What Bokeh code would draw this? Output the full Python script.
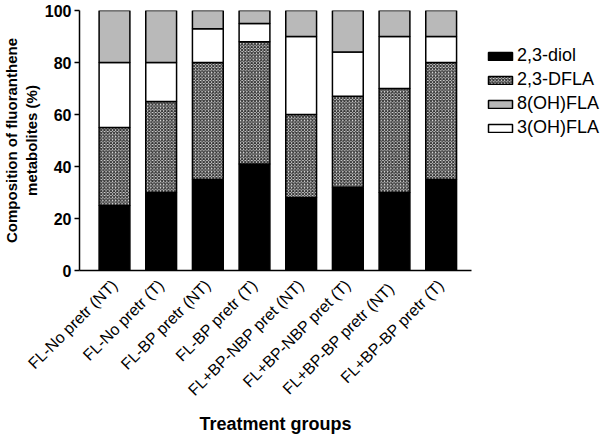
from bokeh.plotting import figure
from bokeh.models import Legend, LegendItem, FixedTicker, Range1d, ColumnDataSource
from bokeh.transform import stack
from bokeh.embed import file_html
from bokeh.resources import INLINE
import math

groups = ["FL-No pretr (NT)", "FL-No pretr (T)", "FL-BP pretr (NT)", "FL-BP pretr (T)",
          "FL+BP-NBP pret (NT)", "FL+BP-NBP pret (T)", "FL+BP-BP  pretr (NT)", "FL+BP-BP pretr (T)"]
diol = [25, 30, 35, 41, 28, 32, 30, 35]
dfla = [30, 35, 45, 47, 32, 35, 40, 45]
oh3 = [25, 15, 13, 7, 30, 17, 20, 10]
oh8 = [20, 20, 7, 5, 10, 16, 10, 10]
y_ticks = [0, 20, 40, 60, 80, 100]

src = ColumnDataSource(dict(x=list(range(len(groups))), diol=diol, dfla=dfla, oh3=oh3, oh8=oh8))

FONT = "Liberation Sans"
p = figure(frame_width=392, frame_height=260, output_backend="svg", toolbar_location=None,
           x_range=Range1d(-0.75, 7.65), y_range=Range1d(0, 100),
           min_border_left=60, min_border_top=10, min_border_bottom=2, min_border_right=0)
p.outline_line_color = None
p.grid.grid_line_color = None
p.background_fill_color = "white"

W = 0.66
r_diol = p.vbar(x='x', width=W, bottom=0, top=stack('diol'), source=src,
                fill_color="black", line_color="black", line_width=1.5)
r_dfla = p.vbar(x='x', width=W, bottom=stack('diol'), top=stack('diol', 'dfla'), source=src,
                fill_color="#e8e8e8", hatch_pattern="diagonal_cross", hatch_scale=3.2,
                hatch_weight=1.2, hatch_color="#333333", line_color="black", line_width=1.5)
r_oh3 = p.vbar(x='x', width=W, bottom=stack('diol', 'dfla'), top=stack('diol', 'dfla', 'oh3'), source=src,
               fill_color="white", line_color="black", line_width=1.5)
r_oh8 = p.vbar(x='x', width=W, bottom=stack('diol', 'dfla', 'oh3'), top=stack('diol', 'dfla', 'oh3', 'oh8'),
               source=src, fill_color="#b9b9b9", line_color="black", line_width=1.5)

# axes
p.axis.axis_line_color = "black"
p.axis.major_label_text_color = "black"
p.axis.axis_label_text_color = "black"

p.yaxis.ticker = FixedTicker(ticks=y_ticks)
p.yaxis.minor_tick_line_color = None
p.yaxis.major_tick_line_color = "black"
p.yaxis.major_tick_out = 5
p.yaxis.major_tick_in = 0
p.yaxis.axis_line_width = 1.5
p.yaxis.major_tick_line_width = 1.5
p.yaxis.major_label_text_font = FONT
p.yaxis.major_label_text_font_style = "bold"
p.yaxis.major_label_text_font_size = "16px"
p.yaxis.major_label_standoff = 3
p.yaxis.axis_label = "Composition of fluoranthene\nmetabolites (%)"
p.yaxis.axis_label_text_font = FONT
p.yaxis.axis_label_text_font_style = "bold"
p.yaxis.axis_label_text_font_size = "15px"
p.yaxis.axis_label_text_line_height = 1.15
p.yaxis.axis_label_standoff = 2

p.xaxis.ticker = FixedTicker(ticks=list(range(len(groups))))
p.xaxis.major_label_overrides = {i: g for i, g in enumerate(groups)}
p.xaxis.major_label_orientation = math.pi / 4
p.xaxis.major_tick_line_color = None
p.xaxis.minor_tick_line_color = None
p.xaxis.axis_line_width = 1.5
p.xaxis.major_label_text_font = FONT
p.xaxis.major_label_text_font_size = "16px"
p.xaxis.major_label_standoff = 6
p.xaxis.axis_label = "Treatment groups"
p.xaxis.axis_label_text_font = FONT
p.xaxis.axis_label_text_font_style = "bold"
p.xaxis.axis_label_text_font_size = "18px"
p.xaxis.axis_label_standoff = 6

legend = Legend(items=[
    LegendItem(label="2,3-diol", renderers=[r_diol]),
    LegendItem(label="2,3-DFLA", renderers=[r_dfla]),
    LegendItem(label="8(OH)FLA", renderers=[r_oh8]),
    LegendItem(label="3(OH)FLA", renderers=[r_oh3]),
], location=(14, 132))
legend.border_line_color = None
legend.background_fill_alpha = 0
legend.label_text_font = FONT
legend.label_text_color = "black"
legend.label_text_font_size = "18px"
legend.glyph_width = 30
legend.glyph_height = 10
legend.label_height = 21
legend.spacing = 3
legend.padding = 0
legend.margin = 0
legend.label_standoff = 2
p.add_layout(legend, "right")

open("out.html", "w").write(file_html(p, INLINE))
